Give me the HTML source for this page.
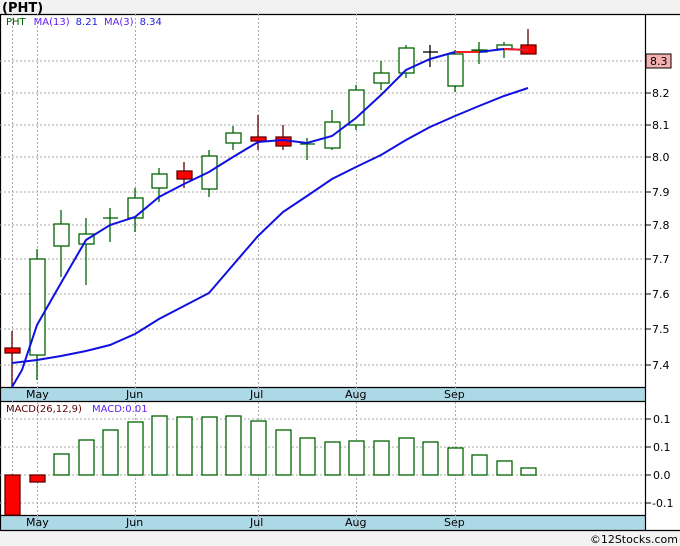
<!DOCTYPE html>
<html><head><style>
body{margin:0;width:680px;height:546px;background:#f2f2f2;font-family:"DejaVu Sans","Liberation Sans",sans-serif;overflow:hidden}
</style></head><body>
<svg width="680" height="546" xmlns="http://www.w3.org/2000/svg" font-family="DejaVu Sans, Liberation Sans, sans-serif" style="display:block">
<rect x="0" y="0" width="680" height="546" fill="#f2f2f2"/>
<text x="2" y="12" font-size="13" font-weight="bold" fill="#000">(PHT)</text>
<rect x="0" y="14" width="680" height="516" fill="#fff"/>
<rect x="0" y="387" width="645" height="14" fill="#add8e6"/>
<rect x="0" y="515" width="645" height="15" fill="#add8e6"/>
<g stroke="#000" stroke-width="1.2" fill="none">
<line x1="0" y1="14.5" x2="680" y2="14.5"/>
<line x1="0" y1="387.5" x2="645" y2="387.5"/>
<line x1="0" y1="401.5" x2="645" y2="401.5"/>
<line x1="0" y1="515.5" x2="645" y2="515.5"/>
<line x1="0" y1="530.5" x2="680" y2="530.5"/>
<line x1="645.5" y1="14" x2="645.5" y2="530"/>
<line x1="0.5" y1="14" x2="0.5" y2="530"/>
</g>
<g stroke="#aaa" stroke-dasharray="2,2" stroke-width="1">
<line x1="0" y1="61" x2="645" y2="61"/><line x1="0" y1="93" x2="645" y2="93"/><line x1="0" y1="125" x2="645" y2="125"/><line x1="0" y1="157" x2="645" y2="157"/><line x1="0" y1="192" x2="645" y2="192"/><line x1="0" y1="225" x2="645" y2="225"/><line x1="0" y1="259" x2="645" y2="259"/><line x1="0" y1="294" x2="645" y2="294"/><line x1="0" y1="329" x2="645" y2="329"/><line x1="0" y1="365" x2="645" y2="365"/>
<line x1="0" y1="419" x2="645" y2="419"/><line x1="0" y1="447" x2="645" y2="447"/><line x1="0" y1="475" x2="645" y2="475"/><line x1="0" y1="503" x2="645" y2="503"/>
<line x1="12.5" y1="14" x2="12.5" y2="387"/><line x1="37.5" y1="14" x2="37.5" y2="530"/><line x1="135.5" y1="14" x2="135.5" y2="530"/><line x1="258.5" y1="14" x2="258.5" y2="530"/><line x1="356.5" y1="14" x2="356.5" y2="530"/><line x1="455.5" y1="14" x2="455.5" y2="530"/>
<line x1="12.5" y1="401" x2="12.5" y2="515"/>
</g>
<g stroke="#000" stroke-width="1">
<line x1="645" y1="61" x2="651" y2="61"/><line x1="645" y1="93" x2="651" y2="93"/><line x1="645" y1="125" x2="651" y2="125"/><line x1="645" y1="157" x2="651" y2="157"/><line x1="645" y1="192" x2="651" y2="192"/><line x1="645" y1="225" x2="651" y2="225"/><line x1="645" y1="259" x2="651" y2="259"/><line x1="645" y1="294" x2="651" y2="294"/><line x1="645" y1="329" x2="651" y2="329"/><line x1="645" y1="365" x2="651" y2="365"/>
<line x1="645" y1="419" x2="651" y2="419"/><line x1="645" y1="447" x2="651" y2="447"/><line x1="645" y1="475" x2="651" y2="475"/><line x1="645" y1="503" x2="651" y2="503"/>
</g>
<g font-size="11" fill="#000">
<rect x="646" y="54" width="25" height="14" fill="#f4b0b0" stroke="#000"/>
<text x="650" y="65">8.3</text>
<text x="652" y="97">8.2</text><text x="652" y="129">8.1</text><text x="652" y="161">8.0</text><text x="652" y="196">7.9</text><text x="652" y="229">7.8</text><text x="652" y="263">7.7</text><text x="652" y="298">7.6</text><text x="652" y="333">7.5</text><text x="652" y="369">7.4</text>
<text x="653" y="423">0.1</text><text x="653" y="451">0.1</text><text x="653" y="479">0.0</text><text x="652" y="507">-0.1</text>
<text x="26" y="398">May</text><text x="126" y="398">Jun</text><text x="250" y="398">Jul</text><text x="345" y="398">Aug</text><text x="444" y="398">Sep</text>
<text x="26" y="526">May</text><text x="126" y="526">Jun</text><text x="250" y="526">Jul</text><text x="345" y="526">Aug</text><text x="444" y="526">Sep</text>
<text x="678" y="543" font-size="11" text-anchor="end">©12Stocks.com</text>
</g>
<text x="6" y="25" font-size="10"><tspan fill="#006400">PHT</tspan><tspan fill="#6020f0" dx="8">MA(13)</tspan><tspan fill="#2020e0" dx="6">8.21</tspan><tspan fill="#6020f0" dx="6">MA(3)</tspan><tspan fill="#2020e0" dx="6">8.34</tspan></text>
<text x="6" y="412" font-size="10"><tspan fill="#600000">MACD(26,12,9)</tspan><tspan fill="#6020f0" dx="10">MACD:0.01</tspan></text>
<g stroke="#006400" stroke-width="1.3" fill="#fff">
<line x1="37" y1="249" x2="37" y2="380"/><rect x="30" y="259" width="15" height="96"/>
<line x1="61" y1="210" x2="61" y2="277"/><rect x="54" y="224" width="15" height="22"/>
<line x1="86" y1="218" x2="86" y2="285"/><rect x="79" y="234" width="15" height="10"/>
<line x1="110" y1="208" x2="110" y2="242"/><line x1="103" y1="218" x2="118" y2="218"/>
<line x1="135" y1="188" x2="135" y2="232"/><rect x="128" y="198" width="15" height="20"/>
<line x1="159" y1="168" x2="159" y2="202"/><rect x="152" y="174" width="15" height="14"/>
<line x1="209" y1="150" x2="209" y2="197"/><rect x="202" y="156" width="15" height="33"/>
<line x1="233" y1="126" x2="233" y2="150"/><rect x="226" y="133" width="15" height="10"/>
<line x1="307" y1="138" x2="307" y2="160"/><line x1="300" y1="144" x2="315" y2="144"/>
<line x1="332" y1="110" x2="332" y2="150"/><rect x="325" y="122" width="15" height="26"/>
<line x1="356" y1="85" x2="356" y2="130"/><rect x="349" y="90" width="15" height="35"/>
<line x1="381" y1="61" x2="381" y2="90"/><rect x="374" y="73" width="15" height="10"/>
<line x1="406" y1="45" x2="406" y2="78"/><rect x="399" y="48" width="15" height="25"/>
<line x1="430" y1="45" x2="430" y2="67" stroke="#000"/><line x1="423" y1="52" x2="438" y2="52" stroke="#000"/>
<line x1="455" y1="50" x2="455" y2="92"/><rect x="448" y="54" width="15" height="32"/>
<line x1="479" y1="42" x2="479" y2="64"/><rect x="472" y="50" width="15" height="2" fill="#006400"/>
<line x1="504" y1="42" x2="504" y2="58"/><rect x="497" y="45" width="15" height="4"/>
</g>
<g stroke="#600000" stroke-width="1.3" fill="#f00">
<line x1="12" y1="331" x2="12" y2="387"/><rect x="5" y="348" width="15" height="5"/>
<line x1="184" y1="162" x2="184" y2="188"/><rect x="177" y="171" width="15" height="8"/>
<line x1="258" y1="115" x2="258" y2="150"/><rect x="251" y="137" width="15" height="4"/>
<line x1="283" y1="125" x2="283" y2="150"/><rect x="276" y="137" width="15" height="9"/>
<line x1="528" y1="29" x2="528" y2="54"/><rect x="521" y="45" width="15" height="9"/>
</g>
<polyline fill="none" stroke="#1010e0" stroke-width="2" points="12,363 37,360 61,356 86,351 110,345 135,334 159,319 184,306 209,293 233,265 258,236 283,212 307,196 332,179 356,167 381,155 406,140 430,127 455,116 479,106 504,96 528,88"/>
<polyline fill="none" stroke="#1010e0" stroke-width="2" points="12,387 22,370 37,325 61,283 86,240 110,225 135,217 159,197 184,184 209,172 233,157 258,142 283,140 307,143 332,136 356,118 381,95 406,70 430,59 455,52 479,52 504,49 528,50"/>
<line x1="455" y1="52" x2="479" y2="52" stroke="#f02020" stroke-width="2"/>
<line x1="504" y1="49" x2="528" y2="50" stroke="#f02020" stroke-width="2"/>
<g stroke="#006400" stroke-width="1.3" fill="#fff">
<rect x="54" y="454" width="15" height="21"/><rect x="79" y="440" width="15" height="35"/><rect x="103" y="430" width="15" height="45"/><rect x="128" y="422" width="15" height="53"/><rect x="152" y="416" width="15" height="59"/><rect x="177" y="417" width="15" height="58"/><rect x="202" y="417" width="15" height="58"/><rect x="226" y="416" width="15" height="59"/><rect x="251" y="421" width="15" height="54"/><rect x="276" y="430" width="15" height="45"/><rect x="300" y="438" width="15" height="37"/><rect x="325" y="442" width="15" height="33"/><rect x="349" y="441" width="15" height="34"/><rect x="374" y="441" width="15" height="34"/><rect x="399" y="438" width="15" height="37"/><rect x="423" y="442" width="15" height="33"/><rect x="448" y="448" width="15" height="27"/><rect x="472" y="455" width="15" height="20"/><rect x="497" y="461" width="15" height="14"/><rect x="521" y="468" width="15" height="7"/>
</g>
<g stroke="#600000" stroke-width="1.3" fill="#f00">
<rect x="5" y="475" width="15" height="40"/><rect x="30" y="475" width="15" height="7"/>
</g>
</svg>
</body></html>
